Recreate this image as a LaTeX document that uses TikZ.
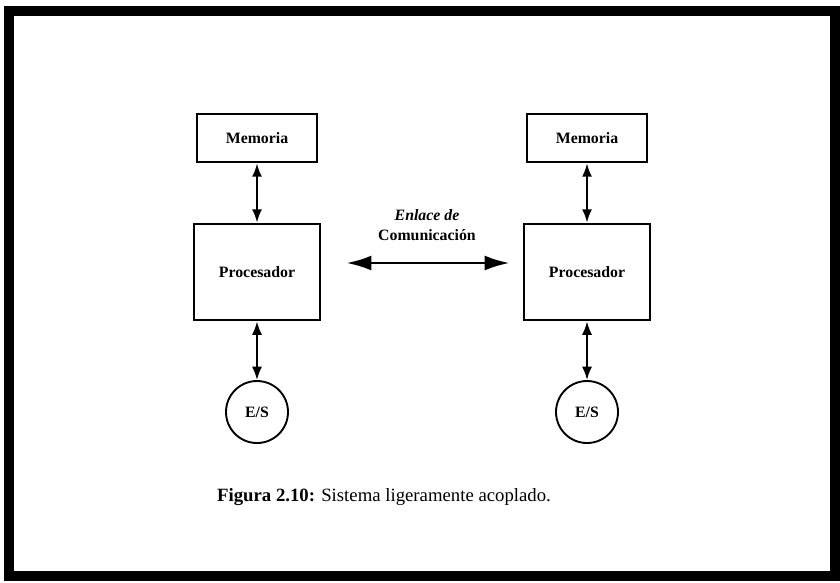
\documentclass[tikz,border=0pt]{standalone}
\usepackage{fontspec}
\setmainfont{Liberation Serif}
\usetikzlibrary{arrows.meta, positioning}

\begin{document}
\begin{tikzpicture}[x=0.03cm,y=-0.03cm,node distance=4.02cm,<->,
    >={Latex[length=0.4cm,width=0.3cm]}]
  % styles
  \tikzstyle{membox} = [rectangle,draw=black,line width=2.4pt,fill=white,
      minimum width=3.6cm,minimum height=1.44cm,font=\fontsize{13.5}{16}\selectfont\bfseries];
  \tikzstyle{procbox} = [rectangle,draw=black,line width=2.4pt,fill=white,
      minimum width=3.78cm,minimum height=2.88cm,font=\fontsize{13.5}{16}\selectfont\bfseries];
  \tikzstyle{iocirc} = [circle,draw=black,line width=1.6pt,fill=white,
      minimum size=1.86cm,inner sep=0pt,font=\fontsize{13.5}{16}\selectfont\bfseries];
  \tikzstyle{link} = [line width=1.6pt];

  \useasboundingbox (0,0) rectangle (840,582);
  \draw[-,line width=0.3cm] (9,11) rectangle (835,576);

  % nodes
  \node[membox] (lmem) at (257,138) {Memoria};
  \node[procbox,below of=lmem] (lproc) {Procesador};
  \node[iocirc,below of=lproc,node distance=4.2cm] (lio) {E/S};
  \node[membox,right of=lmem,node distance=9.9cm] (rmem) {Memoria};
  \node[procbox,below of=rmem] (rproc) {Procesador};
  \node[iocirc,below of=rproc,node distance=4.2cm] (rio) {E/S};
  \node[align=center,font=\fontsize{13.5}{17}\selectfont\bfseries] (label) at (427,225)
      {\textit{Enlace de}\\Comunicación};
  \node[font=\fontsize{16}{19}\selectfont] (caption) at (384,497)
      {\textbf{Figura 2.10:} Sistema ligeramente acoplado.};

  % edges
  \draw[link] (lmem) -- (lproc);
  \draw[link] (lproc) -- (lio);
  \draw[link] (rmem) -- (rproc);
  \draw[link] (rproc) -- (rio);
  \draw[line width=2.4pt,>={Latex[length=0.75cm,width=0.45cm]},
      shorten <=0.75cm,shorten >=0.39cm]
      ([yshift=0.27cm]lproc.east) -- ([yshift=0.27cm]rproc.west);
\end{tikzpicture}
\end{document}
